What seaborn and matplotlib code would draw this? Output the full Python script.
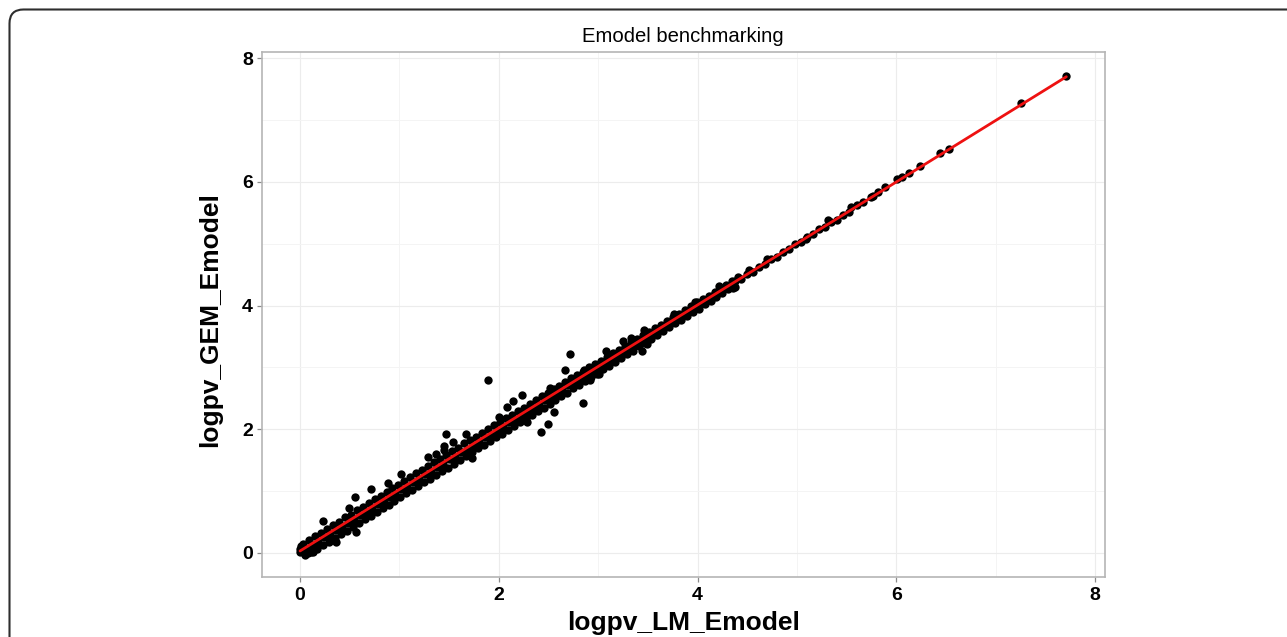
import matplotlib
matplotlib.use("Agg")
import numpy as np
import pandas as pd
import matplotlib.pyplot as plt
import seaborn as sns
from matplotlib.patches import FancyBboxPatch
from matplotlib.transforms import IdentityTransform
from matplotlib.ticker import MultipleLocator

# ---------------- data ----------------
title = "Emodel benchmarking"
x_label = "logpv_LM_Emodel"
y_label = "logpv_GEM_Emodel"
tick_values = [0, 2, 4, 6, 8]

# points lying on the diagonal
core_lm = [0.00, 0.06, 0.12, 0.18, 0.24, 0.30, 0.36, 0.42, 0.48, 0.54, 0.60, 0.66, 0.72, 0.78, 0.84,
           0.90, 0.96, 1.02, 1.08, 1.14, 1.20, 1.26, 1.32, 1.38, 1.44, 1.50, 1.56, 1.62, 1.68, 1.74,
           1.80, 1.86, 1.92, 1.98, 2.04, 2.10, 2.16, 2.22, 2.28, 2.34, 2.40, 2.46, 2.52, 2.58, 2.64,
           2.70, 2.76, 2.82, 2.88, 2.94, 3.00, 3.06, 3.12, 3.18, 3.24, 3.30, 3.36, 3.42, 3.48, 3.54,
           3.60, 3.66, 3.72, 3.78, 3.84, 3.90, 3.96, 4.02, 4.08, 4.14, 4.20, 4.26, 4.32, 4.38, 4.44,
           4.50, 4.56, 4.62, 4.68, 4.74, 4.80, 4.86, 4.92, 4.98, 5.04, 5.10, 5.16, 5.22, 5.28, 5.34,
           5.40, 5.46, 5.52]
core_gem = [0.01, 0.05, 0.13, 0.17, 0.25, 0.29, 0.37, 0.41, 0.49, 0.53, 0.61, 0.66, 0.71, 0.79, 0.83,
            0.91, 0.95, 1.03, 1.07, 1.15, 1.19, 1.27, 1.31, 1.39, 1.43, 1.51, 1.55, 1.63, 1.67, 1.75,
            1.79, 1.87, 1.91, 1.99, 2.03, 2.11, 2.15, 2.23, 2.27, 2.35, 2.39, 2.47, 2.51, 2.59, 2.63,
            2.71, 2.75, 2.83, 2.87, 2.95, 2.99, 3.07, 3.11, 3.19, 3.23, 3.31, 3.35, 3.43, 3.47, 3.55,
            3.59, 3.67, 3.71, 3.79, 3.83, 3.91, 3.95, 4.03, 4.07, 4.15, 4.19, 4.27, 4.31, 4.39, 4.43,
            4.51, 4.55, 4.63, 4.67, 4.75, 4.79, 4.87, 4.91, 4.99, 5.03, 5.11, 5.15, 5.23, 5.27, 5.35,
            5.39, 5.47, 5.51]

# upper edge of the dense band
upper_lm = [0.03, 0.09, 0.15, 0.21, 0.27, 0.33, 0.39, 0.45, 0.51, 0.57, 0.63, 0.69, 0.75, 0.81, 0.87,
            0.93, 0.99, 1.05, 1.11, 1.17, 1.23, 1.29, 1.35, 1.41, 1.47, 1.53, 1.59, 1.65, 1.71, 1.77,
            1.83, 1.89, 1.95, 2.01, 2.07, 2.13, 2.19, 2.25, 2.31, 2.37, 2.43, 2.49, 2.55, 2.61, 2.67,
            2.73, 2.79, 2.85, 2.91, 2.97, 3.03, 3.09, 3.15, 3.21, 3.27, 3.33, 3.39, 3.45, 3.51, 3.57,
            3.63, 3.69, 3.75, 3.81, 3.87, 3.93, 3.99, 4.05, 4.11, 4.17, 4.23, 4.29, 4.35, 4.41]
upper_gem = [0.14, 0.20, 0.27, 0.32, 0.39, 0.45, 0.50, 0.58, 0.62, 0.70, 0.74, 0.81, 0.87, 0.92, 0.99,
             1.05, 1.10, 1.17, 1.22, 1.29, 1.34, 1.41, 1.47, 1.52, 1.59, 1.65, 1.70, 1.77, 1.82, 1.88,
             1.94, 2.00, 2.06, 2.11, 2.18, 2.23, 2.29, 2.35, 2.41, 2.47, 2.53, 2.59, 2.65, 2.70, 2.77,
             2.82, 2.88, 2.93, 3.00, 3.05, 3.11, 3.16, 3.23, 3.28, 3.34, 3.40, 3.46, 3.52, 3.58, 3.63,
             3.69, 3.75, 3.81, 3.87, 3.93, 3.99, 4.05, 4.11, 4.16, 4.22, 4.28, 4.34, 4.40, 4.46]

# lower edge of the dense band
lower_lm = [0.05, 0.11, 0.17, 0.23, 0.29, 0.35, 0.41, 0.47, 0.53, 0.59, 0.65, 0.71, 0.77, 0.83, 0.89,
            0.95, 1.01, 1.07, 1.13, 1.19, 1.25, 1.31, 1.37, 1.43, 1.49, 1.55, 1.61, 1.67, 1.73, 1.79,
            1.85, 1.91, 1.97, 2.03, 2.09, 2.15, 2.21, 2.27, 2.33, 2.39, 2.45, 2.51, 2.57, 2.63, 2.69,
            2.75, 2.81, 2.87, 2.93, 2.99, 3.05, 3.11, 3.17, 3.23, 3.29, 3.35, 3.41, 3.47, 3.53, 3.59,
            3.65, 3.71, 3.77, 3.83, 3.89, 3.95, 4.01, 4.07, 4.13, 4.19, 4.25, 4.31, 4.37]
lower_gem = [-0.03, 0.01, 0.06, 0.12, 0.18, 0.24, 0.30, 0.36, 0.42, 0.48, 0.54, 0.60, 0.66, 0.72, 0.78,
             0.84, 0.90, 0.96, 1.02, 1.08, 1.14, 1.20, 1.26, 1.32, 1.38, 1.44, 1.50, 1.57, 1.63, 1.69,
             1.75, 1.81, 1.87, 1.93, 1.99, 2.05, 2.11, 2.17, 2.23, 2.29, 2.35, 2.41, 2.47, 2.53, 2.59,
             2.66, 2.72, 2.78, 2.84, 2.90, 2.97, 3.03, 3.09, 3.15, 3.21, 3.27, 3.34, 3.40, 3.46, 3.52,
             3.59, 3.65, 3.71, 3.77, 3.83, 3.89, 3.95, 4.02, 4.08, 4.14, 4.20, 4.26, 4.32]

# cluster at the origin and scattered points off the band
extra_lm = [0.00, 0.01, 0.08, 0.13, 0.04, 0.23, 0.49, 0.55, 0.71, 0.88, 1.02, 1.29, 1.37, 1.45, 1.47,
            1.54, 1.67, 1.89, 2.00, 2.08, 2.14, 2.23, 2.51, 2.67, 2.72, 2.86, 3.08, 3.25, 3.33, 3.46,
            3.76, 3.97, 4.22, 4.52, 4.70, 5.31, 0.36, 0.56, 1.45, 1.73, 2.28, 2.42, 2.49, 2.56, 2.85,
            2.92, 3.01, 3.44, 3.49, 4.36, 4.38, 5.09]
extra_gem = [0.06, 0.11, 0.00, 0.01, 0.02, 0.52, 0.73, 0.90, 1.03, 1.13, 1.28, 1.55, 1.60, 1.72, 1.92,
             1.79, 1.93, 2.80, 2.19, 2.36, 2.46, 2.55, 2.66, 2.96, 3.22, 2.95, 3.27, 3.42, 3.48, 3.60,
             3.87, 4.06, 4.31, 4.58, 4.75, 5.38, 0.18, 0.34, 1.66, 1.53, 2.11, 1.95, 2.08, 2.28, 2.43,
             2.80, 2.90, 3.27, 3.38, 4.28, 4.30, 5.08]

# sparse points at the top end
tail_lm = [5.54, 5.60, 5.66, 5.74, 5.76, 5.82, 5.89, 6.01, 6.06, 6.13, 6.24, 6.44, 6.53, 7.25, 7.71]
tail_gem = [5.60, 5.62, 5.68, 5.76, 5.77, 5.83, 5.92, 6.04, 6.08, 6.14, 6.26, 6.46, 6.53, 7.27, 7.72]

df = pd.DataFrame({
    x_label: core_lm + upper_lm + lower_lm + extra_lm + tail_lm,
    y_label: core_gem + upper_gem + lower_gem + extra_gem + tail_gem,
})

# ---------------- style ----------------
sns.set_theme(style="white")
plt.rcParams["font.family"] = ["Liberation Sans", "DejaVu Sans"]

W, H = 1287, 637
fig = plt.figure(figsize=(W / 100, H / 100), dpi=100)
fig.patch.set_facecolor("white")

left, right, top, bottom = 261.7, 1104.7, 52.3, 576.7
ax = fig.add_axes([left / W, 1 - bottom / H, (right - left) / W, (bottom - top) / H])

sns.regplot(data=df, x=x_label, y=y_label, ci=None, ax=ax, color="black",
            scatter_kws=dict(s=36, linewidths=0, alpha=1, zorder=3),
            line_kws=dict(color="#ee1111", lw=2.0, zorder=4))

ax.set_xlim(-0.386, 8.096)
ax.set_ylim(-0.386, 8.096)
ax.xaxis.set_minor_locator(MultipleLocator(1))
ax.yaxis.set_minor_locator(MultipleLocator(1))
ax.set_xticks(tick_values)
ax.set_yticks(tick_values)
ax.set_xticklabels([str(v) for v in tick_values])
ax.set_yticklabels([str(v) for v in tick_values])

ax.set_axisbelow(True)
ax.grid(which="major", color="#ececec", lw=0.8)
ax.grid(which="minor", color="#f4f4f4", lw=0.7)

for sp in ax.spines.values():
    sp.set_color("#b5b5b5")
    sp.set_linewidth(1.2)

ax.tick_params(axis="both", which="major", length=3.3, width=0.9, color="#8a8a8a",
               labelsize=14, labelcolor="black", bottom=True, left=True)
ax.tick_params(axis="x", pad=4.2)
ax.tick_params(axis="y", pad=2.9)
ax.tick_params(which="minor", length=0)
plt.setp(ax.get_xticklabels() + ax.get_yticklabels(), fontweight="bold")

ax.set_title(title, fontsize=14.6, pad=7.6, color="black")
ax.set_xlabel(x_label, fontsize=19, fontweight="bold", va="baseline", color="black")
ax.set_ylabel(y_label, fontsize=19, fontweight="bold", va="baseline", color="black")
ax.xaxis.set_label_coords(0.5, -(630 - bottom) / (bottom - top))
ax.yaxis.set_label_coords((216.7 - left) / (right - left), (bottom - 320) / (bottom - top))

# rounded frame around the whole figure (open towards right/bottom edge)
frame = FancyBboxPatch((9.5, -40), 1400, (H - 9.5) + 40,
                       boxstyle="round,pad=0,rounding_size=14",
                       transform=IdentityTransform(), fill=False,
                       ec="#2e2e2e", lw=1.5)
fig.add_artist(frame)

fig.savefig("out.png", dpi=100)
